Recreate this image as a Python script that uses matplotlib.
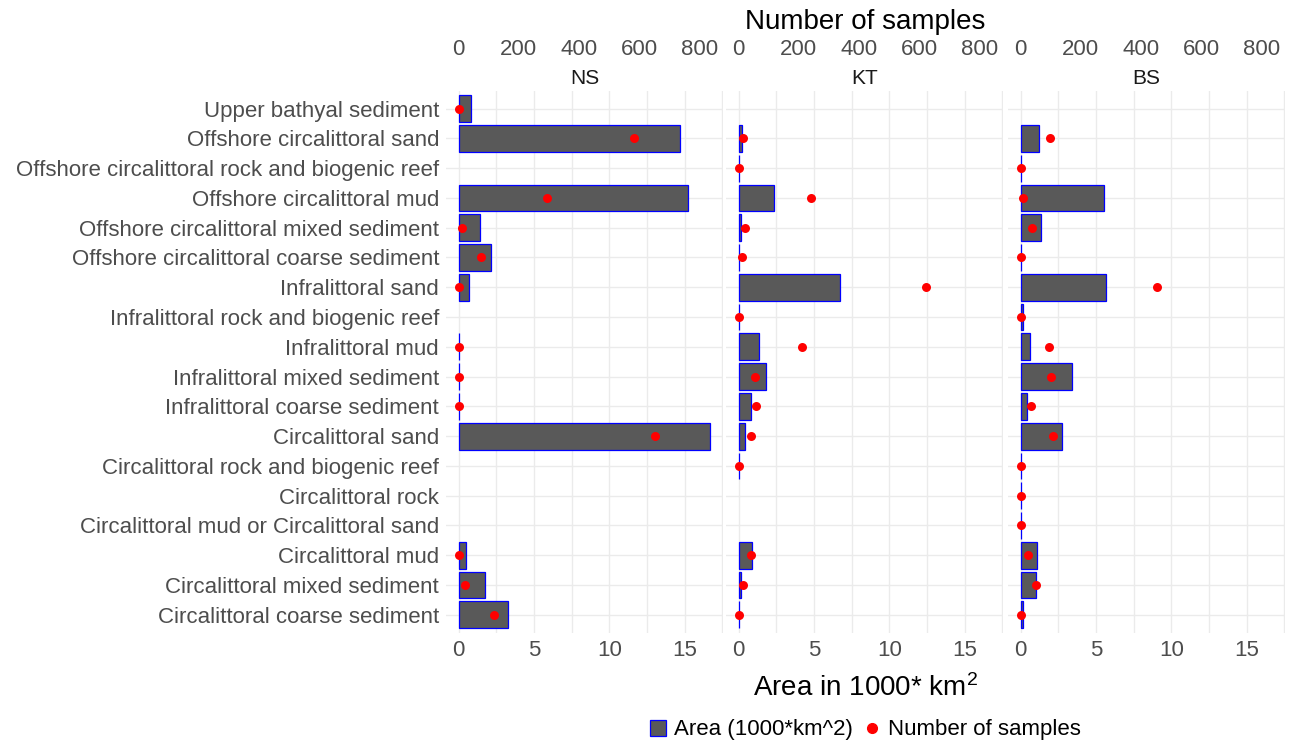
import numpy as np
import matplotlib
matplotlib.use("Agg")
import matplotlib.pyplot as plt
from matplotlib.patches import Patch
from matplotlib.lines import Line2D

plt.rcParams['font.family'] = ['Liberation Sans', 'DejaVu Sans']
plt.rcParams['mathtext.fontset'] = 'custom'
plt.rcParams['mathtext.rm'] = 'Liberation Sans'

habitats = [
    "Upper bathyal sediment",
    "Offshore circalittoral sand",
    "Offshore circalittoral rock and biogenic reef",
    "Offshore circalittoral mud",
    "Offshore circalittoral mixed sediment",
    "Offshore circalittoral coarse sediment",
    "Infralittoral sand",
    "Infralittoral rock and biogenic reef",
    "Infralittoral mud",
    "Infralittoral mixed sediment",
    "Infralittoral coarse sediment",
    "Circalittoral sand",
    "Circalittoral rock and biogenic reef",
    "Circalittoral rock",
    "Circalittoral mud or Circalittoral sand",
    "Circalittoral mud",
    "Circalittoral mixed sediment",
    "Circalittoral coarse sediment",
]
regions = ["NS", "KT", "BS"]
nan = np.nan

# area in 1000 km^2 (nan = habitat absent in region)
area_ns = [0.85, 14.72, nan, 15.24, 1.43, 2.14, 0.72, nan, 0.02, 0.02, 0.02,
           16.71, nan, nan, nan, 0.49, 1.72, 3.28]
area_kt = [nan, 0.22, 0.02, 2.32, 0.17, 0.05, 6.74, 0.02, 1.38, 1.81, 0.80,
           0.42, 0.02, nan, nan, 0.87, 0.15, 0.02]
area_bs = [nan, 1.23, 0.02, 5.54, 1.37, 0.02, 5.68, 0.16, 0.65, 3.44, 0.45,
           2.75, 0.02, 0.02, 0.02, 1.10, 1.00, 0.16]

# number of samples
samples_ns = [1, 581, nan, 293, 10, 74, 3, nan, 1, 1, 1,
              652, nan, nan, nan, 2, 21, 118]
samples_kt = [nan, 14, 0, 240, 21, 10, 621, 0, 212, 54, 57,
              42, 0, nan, nan, 42, 14, 0]
samples_bs = [nan, 97, 0, 8, 39, 0, 452, 2, 94, 100, 36,
              107, 0, 0, 0, 26, 50, 0]

areas = [area_ns, area_kt, area_bs]
samples = [samples_ns, samples_kt, samples_bs]
scale = 50  # samples = area * 50 on the top axis

allvals = np.concatenate([np.array(a, float) for a in areas] +
                         [np.array(s, float) / scale for s in samples])
xmax = np.nanmax(allvals)
xlim = (-0.05 * xmax, 1.05 * xmax)

fig = plt.figure(figsize=(12.95, 7.44), dpi=100)
W, H = 1295, 744
lefts = [446, 726, 1008]
pw = 277
top, bottom = 90.7, 632.7
ypos = np.arange(len(habitats))[::-1]
tick_col = '#4D4D4D'
grid_col = '#EBEBEB'
fs = 16

axes = []
for i, reg in enumerate(regions):
    ax = fig.add_axes([lefts[i] / W, 1 - bottom / H, pw / W, (bottom - top) / H])
    axes.append(ax)
    a = np.array(areas[i], float)
    s = np.array(samples[i], float)
    ok = ~np.isnan(a)
    ax.barh(ypos[ok], a[ok], height=0.9, color='#595959', edgecolor='blue',
            linewidth=0.9, zorder=2)
    ok2 = ~np.isnan(s)
    ax.scatter(s[ok2] / scale, ypos[ok2], s=42, color='red', zorder=3,
               linewidths=0)
    ax.set_xlim(xlim)
    ax.set_ylim(-0.6, len(habitats) - 0.4)
    ax.set_xticks([0, 5, 10, 15])
    ax.set_xticks([2.5, 7.5, 12.5, 17.5], minor=True)
    ax.set_yticks(ypos)
    if i == 0:
        ax.set_yticklabels(habitats)
    else:
        ax.set_yticklabels([])
    ax.grid(True, which='both', color=grid_col, linewidth=1, zorder=0)
    ax.set_axisbelow(True)
    for sp in ax.spines.values():
        sp.set_visible(False)
    ax.tick_params(axis='both', which='both', length=0, labelsize=fs,
                   labelcolor=tick_col)
    ax.tick_params(axis='x', pad=5)
    ax.tick_params(axis='y', pad=5)

    sec = ax.secondary_xaxis('top', functions=(lambda x: x * scale,
                                               lambda x: x / scale))
    sec.set_xticks([0, 200, 400, 600, 800])
    sec.tick_params(length=0, labelsize=fs, labelcolor=tick_col, pad=22)
    for sp in sec.spines.values():
        sp.set_visible(False)
    ax.text(0.5, 1.0 + 12 / (bottom - top), reg, transform=ax.transAxes,
            ha='center', va='center', fontsize=15, color='#1A1A1A')

cx = (lefts[0] + lefts[2] + pw) / 2 / W
fig.text(cx, 1 - 22 / H, "Number of samples", ha='center', va='center',
         fontsize=20)
fig.text(cx, 1 - 688 / H, r"Area in 1000* km$\mathregular{^2}$", ha='center',
         va='center', fontsize=20)

handles = [Patch(facecolor='#595959', edgecolor='blue', linewidth=0.9),
           Line2D([], [], marker='o', color='red', linestyle='none',
                  markersize=7)]
fig.legend(handles, ["Area (1000*km^2)", "Number of samples"], loc='center',
           bbox_to_anchor=(cx, 14 / H), ncol=2, frameon=False, fontsize=16,
           handlelength=0.75, handleheight=0.75, handletextpad=0.35,
           columnspacing=0.5)

fig.savefig("out.png", dpi=100)
